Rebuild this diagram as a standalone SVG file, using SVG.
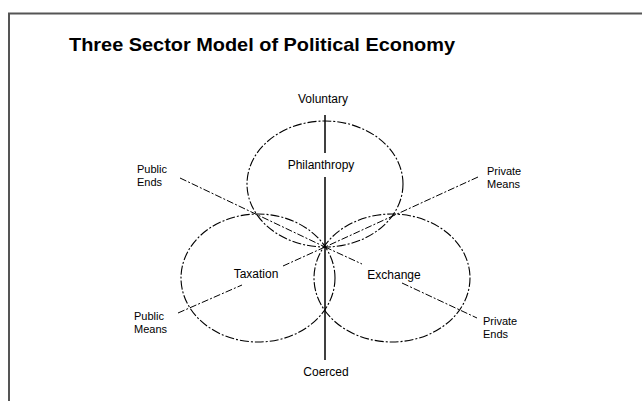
<svg xmlns="http://www.w3.org/2000/svg" width="642" height="401" viewBox="0 0 642 401">
<style>
.t{font-family:"Liberation Sans",Arial,sans-serif;font-size:12px;fill:#000}
.s{font-family:"Liberation Sans",Arial,sans-serif;font-size:11px;fill:#000}
.title{font-family:"Liberation Sans",Arial,sans-serif;font-size:19px;font-weight:bold;fill:#000}
.ring{fill:none;stroke:#000;stroke-width:1.1;stroke-dasharray:9 2 2 2}
.ln{fill:none;stroke:#000;stroke-width:1;stroke-dasharray:7 2 2 2}
.axis{fill:none;stroke:#000;stroke-width:1.5}
</style>
<rect width="642" height="401" fill="#fff"/>
<path d="M9 401 V13.5 H642" fill="none" stroke="#555" stroke-width="2"/>
<text class="title" x="262" y="51" text-anchor="middle" textLength="386" lengthAdjust="spacingAndGlyphs">Three Sector Model of Political Economy</text>
<g id="connectors">
<line class="axis" x1="325" y1="115" x2="325" y2="153"/>
<line class="axis" x1="325" y1="177" x2="325" y2="360"/>
<line class="ln" x1="180" y1="178" x2="325" y2="247"/>
<line class="ln" x1="478" y1="177" x2="325" y2="247"/>
<line class="ln" x1="178" y1="313" x2="242" y2="285"/>
<line class="ln" x1="283" y1="266" x2="325" y2="247"/>
<line class="ln" x1="325" y1="247" x2="362" y2="264"/>
<line class="ln" x1="402" y1="283" x2="477" y2="318"/>
</g>
<g id="philanthropy">
<ellipse class="ring" cx="325" cy="184" rx="78" ry="63"/>
<text class="t" x="321" y="169" text-anchor="middle">Philanthropy</text>
</g>
<g id="taxation">
<ellipse class="ring" cx="258" cy="278" rx="77" ry="64"/>
<text class="t" x="256" y="278" text-anchor="middle">Taxation</text>
</g>
<g id="exchange">
<ellipse class="ring" cx="392" cy="278" rx="78" ry="64"/>
<text class="t" x="394" y="279" text-anchor="middle">Exchange</text>
</g>
<g id="voluntary"><text class="t" x="323" y="103" text-anchor="middle">Voluntary</text></g>
<g id="coerced"><text class="t" x="326" y="376" text-anchor="middle">Coerced</text></g>
<g id="public-ends"><text class="s" x="137" y="173">Public</text><text class="s" x="137" y="186">Ends</text></g>
<g id="private-means"><text class="s" x="487" y="175">Private</text><text class="s" x="487" y="188">Means</text></g>
<g id="public-means"><text class="s" x="134" y="320">Public</text><text class="s" x="134" y="333">Means</text></g>
<g id="private-ends"><text class="s" x="483" y="325">Private</text><text class="s" x="483" y="338">Ends</text></g>
</svg>
